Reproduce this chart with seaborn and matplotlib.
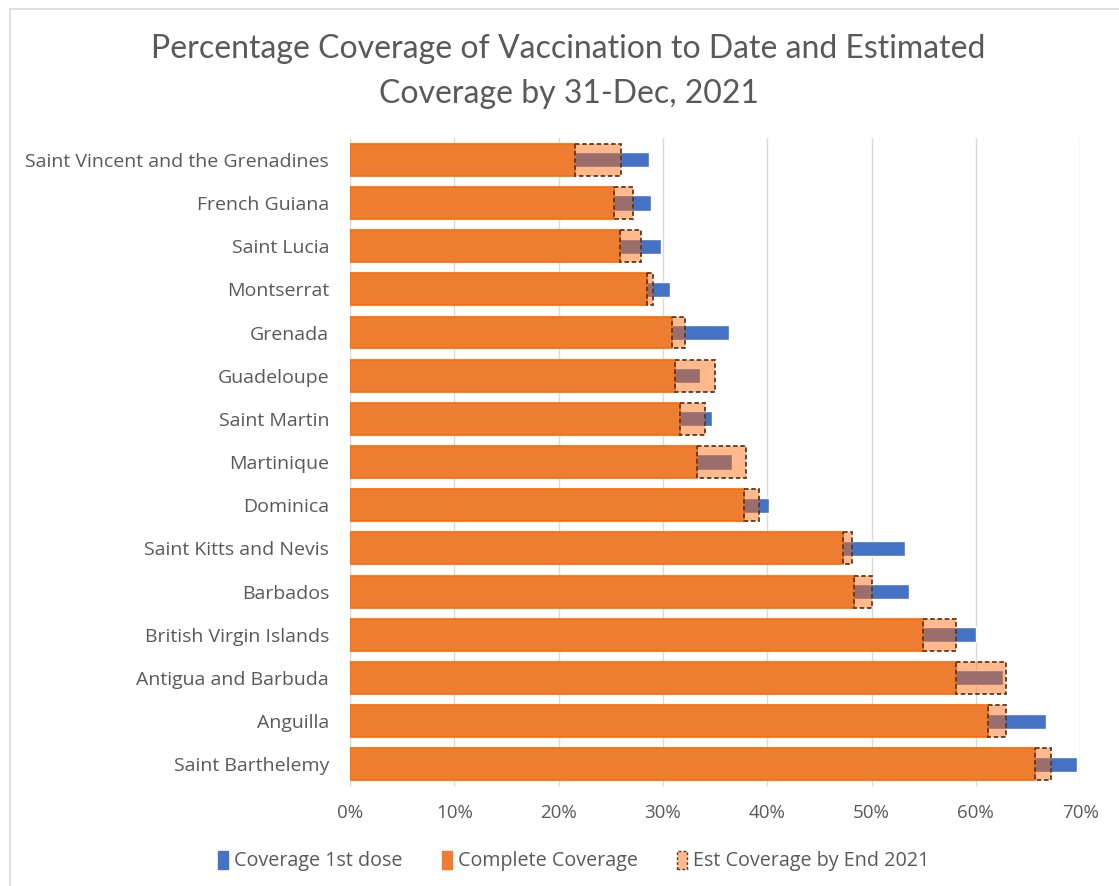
import numpy as np
import pandas as pd
import matplotlib
matplotlib.use("Agg")
import matplotlib.pyplot as plt
from matplotlib.patches import Patch, Rectangle
from matplotlib.ticker import PercentFormatter
import seaborn as sns

# данные (в долях)
countries = [
    "Saint Vincent and the Grenadines", "French Guiana", "Saint Lucia", "Montserrat",
    "Grenada", "Guadeloupe", "Saint Martin", "Martinique", "Dominica",
    "Saint Kitts and Nevis", "Barbados", "British Virgin Islands",
    "Antigua and Barbuda", "Anguilla", "Saint Barthelemy",
]
first_dose = [0.287, 0.289, 0.298, 0.307, 0.363, 0.336, 0.347, 0.366, 0.402,
              0.532, 0.536, 0.600, 0.626, 0.667, 0.697]
complete = [0.216, 0.253, 0.259, 0.285, 0.309, 0.312, 0.316, 0.333, 0.378,
            0.473, 0.483, 0.549, 0.581, 0.612, 0.657]
est_2021 = [0.260, 0.271, 0.279, 0.290, 0.321, 0.350, 0.340, 0.380, 0.392,
            0.481, 0.500, 0.581, 0.629, 0.629, 0.672]

df = pd.DataFrame({"country": countries, "first": first_dose,
                   "complete": complete, "est": est_2021})

BLUE = "#4472c4"
ORANGE = "#ed7d31"
EST_FACE = (1.0, 0.42, 0.05, 0.47)
GRAY = "#595959"

sns.set_style("white")
plt.rcParams["font.family"] = ["Open Sans", "DejaVu Sans"]

fig = plt.figure(figsize=(11.19, 8.86), dpi=100)
ax = fig.add_axes([0.3128, 0.113, 0.6525, 0.731])

# первая доза (узкие синие полосы, под оранжевыми)
sns.barplot(data=df, y="country", x="first", orient="h", color=BLUE,
            width=0.35, saturation=1, ax=ax, zorder=2)
# полная вакцинация
sns.barplot(data=df, y="country", x="complete", orient="h", color=ORANGE,
            width=0.74, saturation=1, ax=ax, zorder=3,
            edgecolor="#ff6a00", linewidth=1.2)
# оценка на конец 2021 (полупрозрачный отрезок от complete до est)
pos = np.arange(len(df))
ax.barh(pos, df["est"] - df["complete"], left=df["complete"], height=0.74,
        facecolor=EST_FACE, edgecolor="#5b3a1c", linewidth=1.3,
        linestyle=(0, (2.5, 1.5)), zorder=4)

ax.set_xlim(0, 0.70)
ax.set_ylim(len(df) - 0.5, -0.5)
ax.set_xticks(np.arange(0, 0.71, 0.1))
ax.xaxis.set_major_formatter(PercentFormatter(1.0, decimals=0))
ax.set_xlabel("")
ax.set_ylabel("")
ax.grid(axis="x", color="#d9d9d9", linewidth=1)
ax.set_axisbelow(True)
for s in ["top", "right", "bottom"]:
    ax.spines[s].set_visible(False)
ax.spines["left"].set_color("#d9d9d9")
ax.tick_params(axis="both", length=0, colors=GRAY, labelsize=13.5)
ax.tick_params(axis="y", pad=15, labelsize=14)
ax.tick_params(axis="x", pad=13)

fig.text(0.508, 0.919, "Percentage Coverage of Vaccination to Date and Estimated\nCoverage by 31-Dec, 2021",
         ha="center", va="center", fontsize=23, color=GRAY, linespacing=1.62,
         family=["Lato", "DejaVu Sans"])

handles = [
    Patch(facecolor=BLUE, edgecolor=BLUE),
    Patch(facecolor=ORANGE, edgecolor=ORANGE),
    Patch(facecolor=EST_FACE, edgecolor="#5b3a1c", linestyle=(0, (2, 1.5))),
]
labels = ["Coverage 1st dose", "Complete Coverage", "Est Coverage by End 2021"]
fig.legend(handles, labels, loc="center", bbox_to_anchor=(0.513, 0.028), ncol=3,
           frameon=False, fontsize=14.2, handlelength=0.5, handleheight=1.0,
           handletextpad=0.3, columnspacing=2.0, labelcolor=GRAY)

# рамка вокруг диаграммы
fig.patches.append(Rectangle((0.009, -0.01), 1.2, 1.0, transform=fig.transFigure,
                             fill=False, edgecolor="#d9d9d9", linewidth=1.2))

fig.savefig("out.png", dpi=100)
